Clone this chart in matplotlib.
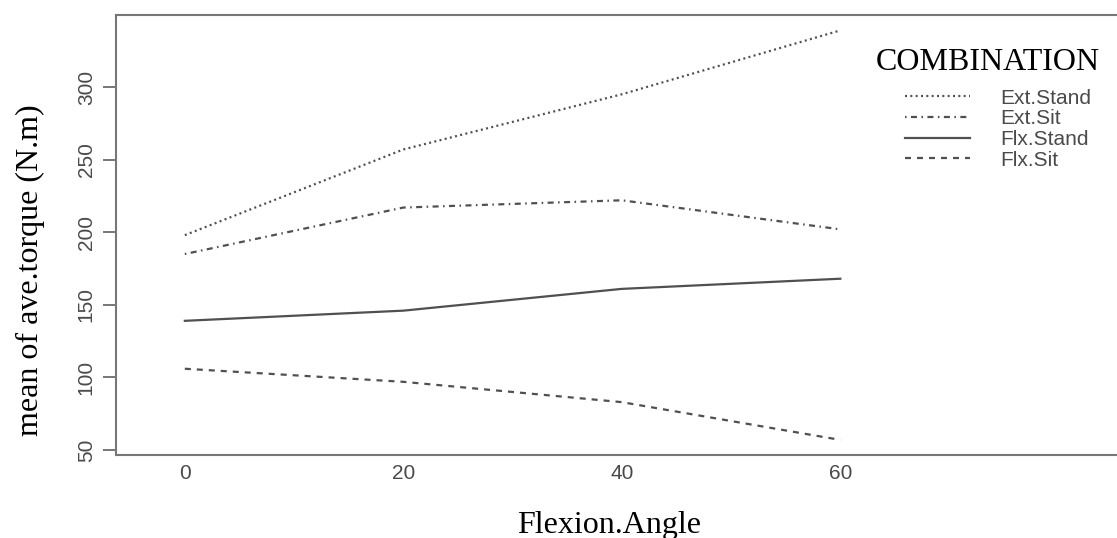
import matplotlib
matplotlib.use("Agg")
import matplotlib.pyplot as plt

# interaction plot data: mean torque by flexion angle
flexion_angle = [0, 20, 40, 60]
ext_stand = [198, 257, 295, 339]
ext_sit = [185, 217, 222, 202]
flx_stand = [139, 146, 161, 168]
flx_sit = [106, 97, 83, 57]

combinations = ["Ext.Stand", "Ext.Sit", "Flx.Stand", "Flx.Sit"]
series = [ext_stand, ext_sit, flx_stand, flx_sit]
# R style lty 3, 4, 1, 2
line_styles = [(0, (0.9, 1.5)), (0, (0.7, 2.0, 2.7, 2.0)), "-", (0, (2.7, 2.7))]

y_ticks = [50, 100, 150, 200, 250, 300]
x_ticks = [0, 20, 40, 60]

LINE = "#505050"
SPINE = "#777777"
TICKTXT = "#4a4a4a"

W, H = 1117, 538
AX_L, AX_R, AX_T, AX_B = 116, 1120, 15, 455

fig = plt.figure(figsize=(W / 100, H / 100), dpi=100)
ax = fig.add_axes([AX_L / W, 1 - AX_B / H, (AX_R - AX_L) / W, (AX_B - AX_T) / H])

for name, vals, ls in zip(combinations, series, line_styles):
    ax.plot(flexion_angle, vals, color=LINE, lw=1.6, linestyle=ls, label=name)

ax.set_xlim(-6.3, 85.6)
ax.set_ylim(46.6, 349.6)
ax.set_xticks(x_ticks)
ax.set_yticks(y_ticks)

for side in ["left", "top", "bottom"]:
    ax.spines[side].set_color(SPINE)
    ax.spines[side].set_linewidth(1.5)
ax.spines["right"].set_visible(False)

ax.tick_params(axis="y", length=9.5, width=1.4, color=SPINE, pad=5,
               labelsize=15, labelcolor=TICKTXT, labelrotation=90)
ax.tick_params(axis="x", length=0, pad=6.5, labelsize=15, labelcolor=TICKTXT)
for lab in ax.get_yticklabels():
    lab.set_verticalalignment("center")
    lab.set_family("Liberation Sans")
for lab in ax.get_xticklabels():
    lab.set_family("Liberation Sans")

ax_w = AX_R - AX_L
ax_h = AX_B - AX_T
ax.set_ylabel("mean of ave.torque (N.m)", family="Liberation Serif", fontsize=23)
ax.yaxis.set_label_coords((38 - AX_L) / ax_w, (AX_B - 270) / ax_h)
ax.yaxis.label.set_verticalalignment("baseline")

ax.set_xlabel("Flexion.Angle", family="Liberation Serif", fontsize=23)
ax.xaxis.set_label_coords((609 - AX_L) / ax_w, (AX_B - 533) / ax_h)
ax.xaxis.label.set_verticalalignment("baseline")

# legend, with its title as a separate text like R's interaction.plot
leg = ax.legend(loc="upper left", bbox_to_anchor=(905 / W, 1 - 88.5 / H),
                bbox_transform=fig.transFigure, frameon=False, borderpad=0,
                borderaxespad=0, handlelength=3.12, handletextpad=1.45,
                labelspacing=0.08, prop={"family": "Liberation Sans", "size": 15})
for t in leg.get_texts():
    t.set_color(TICKTXT)
fig.text(988 / W, 1 - 62 / H, "COMBINATION", family="Liberation Serif", fontsize=23,
         ha="center", va="center")

fig.savefig("out.png", dpi=100)
